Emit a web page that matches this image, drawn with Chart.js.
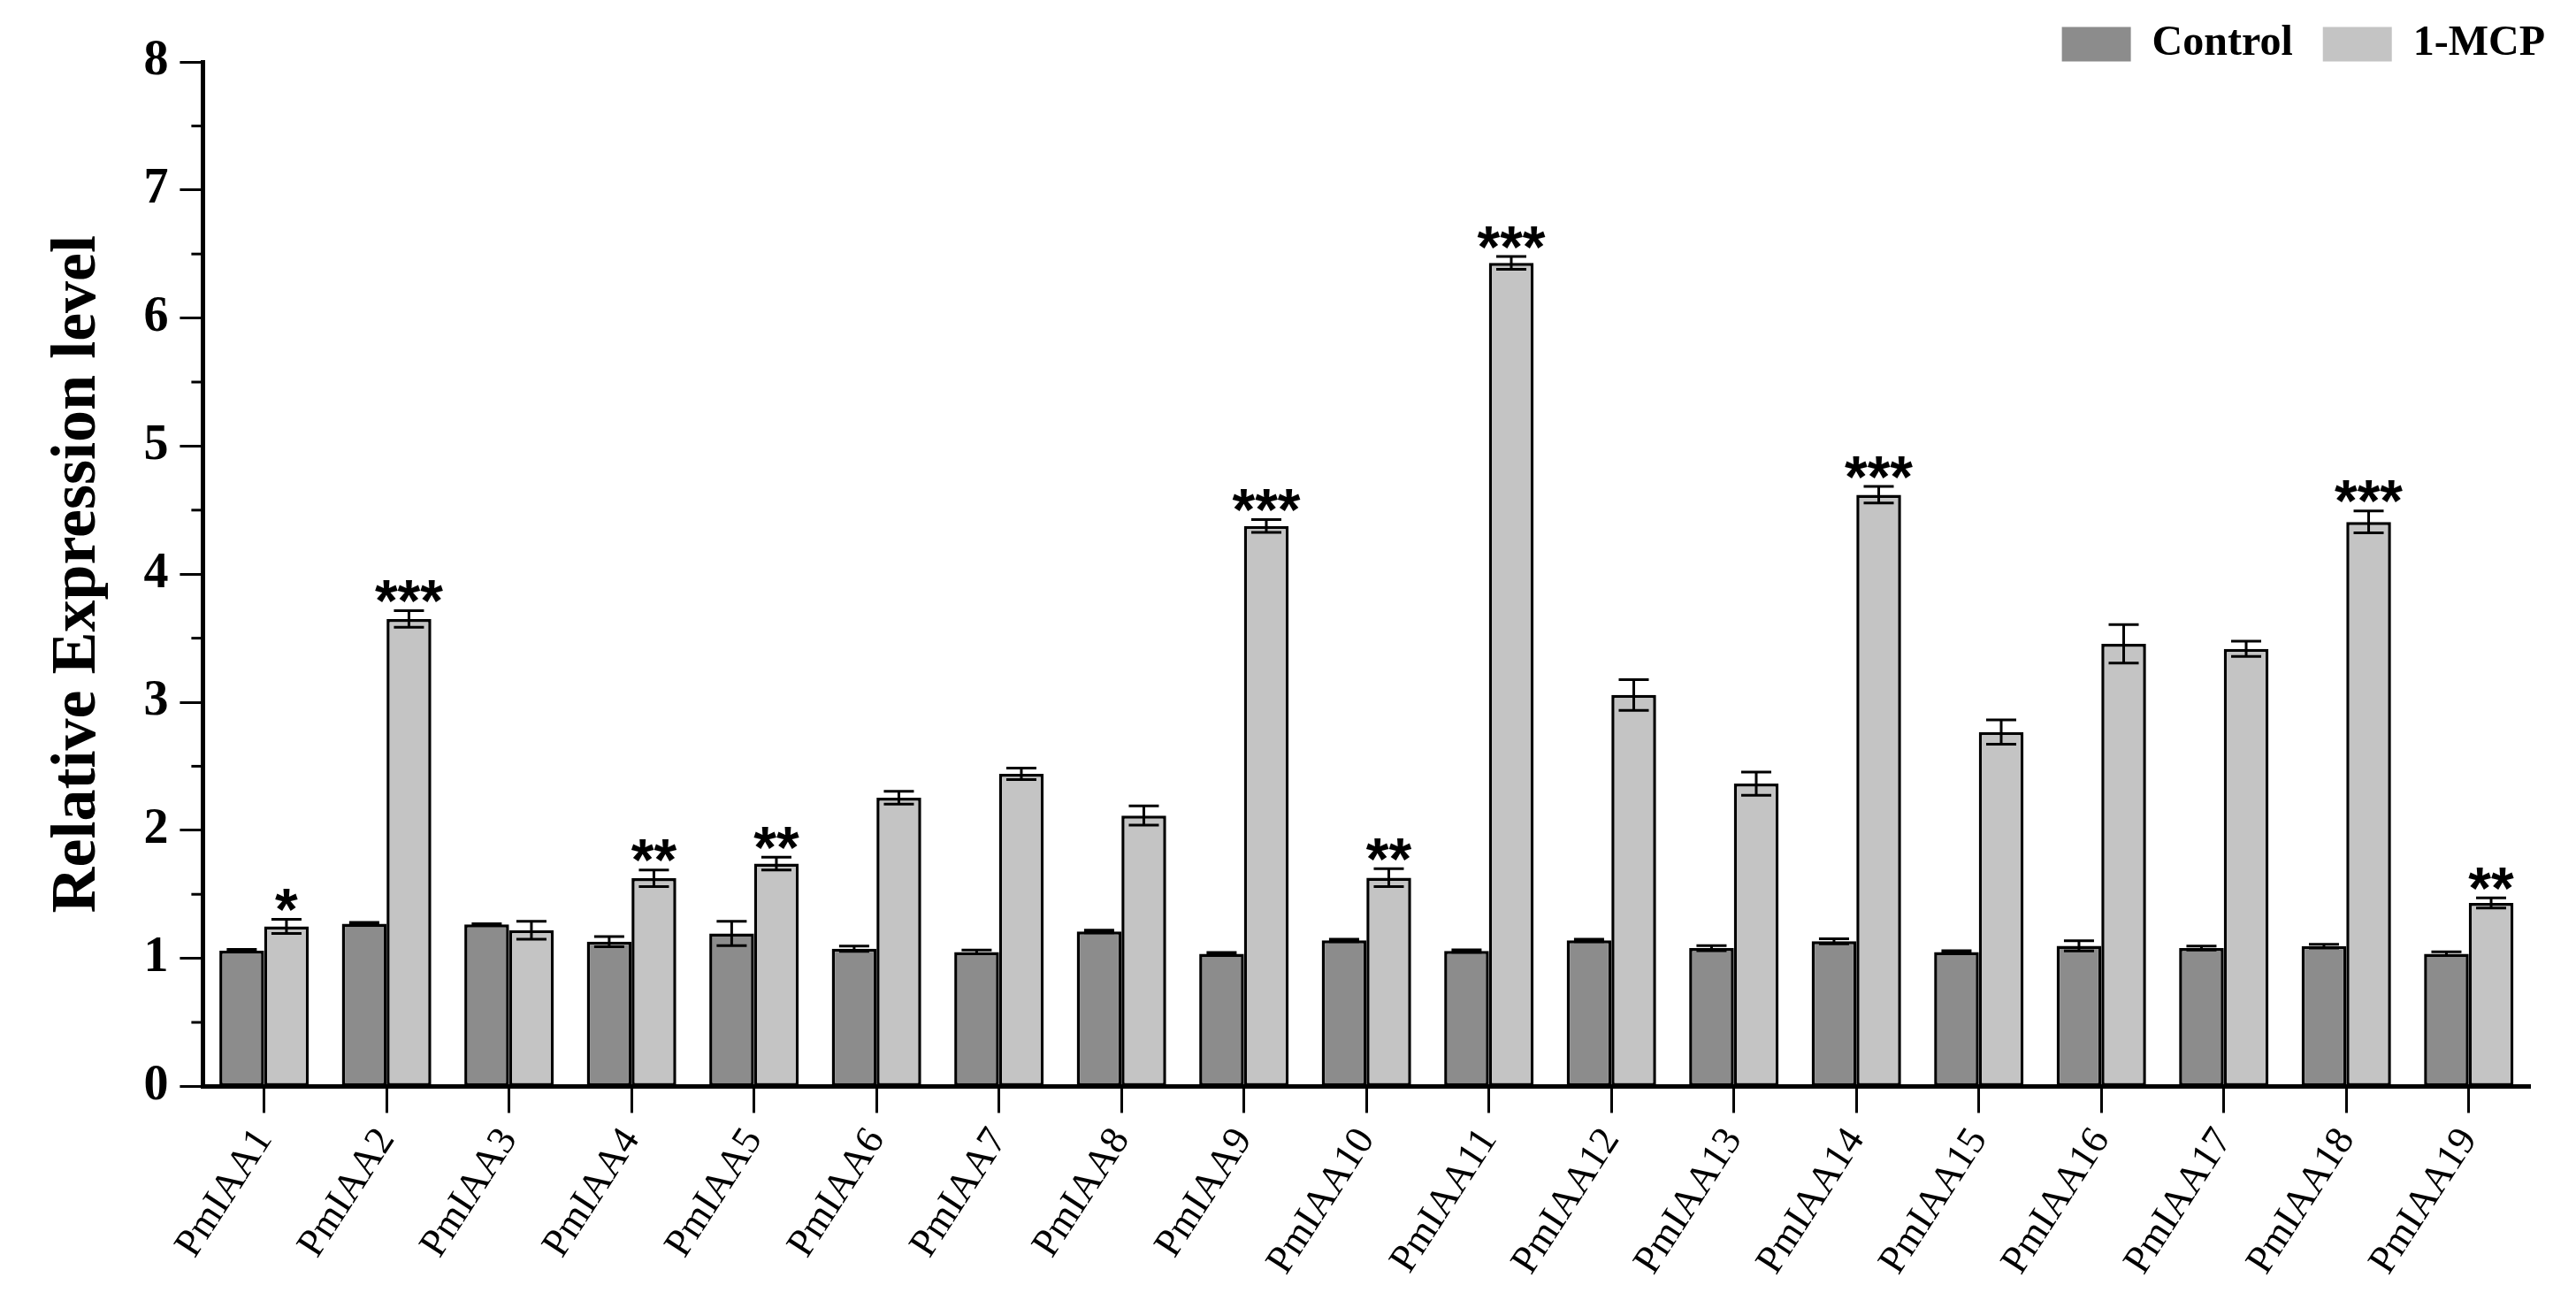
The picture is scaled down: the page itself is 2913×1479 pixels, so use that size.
<!DOCTYPE html>
<html>
<head>
<meta charset="utf-8">
<script src="https://cdn.jsdelivr.net/npm/chart.js@4/dist/chart.umd.min.js"></script>
<style>
  html, body { margin: 0; padding: 0; background: #fff; }
  #wrap { width: 2913px; height: 1479px; }
</style>
</head>
<body>
<div id="wrap"><canvas id="c" width="2913" height="1479"></canvas></div>
<script>
const categories = ['PmIAA1','PmIAA2','PmIAA3','PmIAA4','PmIAA5','PmIAA6','PmIAA7','PmIAA8','PmIAA9','PmIAA10','PmIAA11','PmIAA12','PmIAA13','PmIAA14','PmIAA15','PmIAA16','PmIAA17','PmIAA18','PmIAA19'];
const controlValues = [1.06, 1.27, 1.265, 1.13, 1.195, 1.075, 1.05, 1.21, 1.035, 1.14, 1.057, 1.14, 1.08, 1.133, 1.05, 1.098, 1.08, 1.095, 1.036];
const controlErrors = [0.01, 0.01, 0.005, 0.04, 0.095, 0.02, 0.015, 0.01, 0.01, 0.01, 0.01, 0.01, 0.02, 0.02, 0.01, 0.04, 0.015, 0.015, 0.015];
const mcpValues = [1.25, 3.65, 1.22, 1.625, 1.74, 2.255, 2.44, 2.115, 4.376, 1.63, 6.43, 3.057, 2.364, 4.62, 2.767, 3.456, 3.417, 4.408, 1.433];
const mcpErrors = [0.055, 0.065, 0.07, 0.065, 0.05, 0.05, 0.045, 0.075, 0.05, 0.07, 0.05, 0.12, 0.09, 0.065, 0.095, 0.15, 0.06, 0.085, 0.04];
const significance = ['*','***','','**','**','','','','***','**','***','','','***','','','','***','**'];
const seriesNames = ['Control', '1-MCP'];
const yTickValues = [0, 1, 2, 3, 4, 5, 6, 7, 8];
const yMinorTickValues = [0.5, 1.5, 2.5, 3.5, 4.5, 5.5, 6.5, 7.5];

const errorsBySeries = [controlErrors, mcpErrors];

const errorBarPlugin = {
  id: 'errorBars',
  afterDatasetsDraw(chart) {
    const ctx = chart.ctx;
    const y = chart.scales.y;
    ctx.save();
    ctx.strokeStyle = '#000';
    ctx.lineWidth = 3;
    chart.data.datasets.forEach((ds, di) => {
      const meta = chart.getDatasetMeta(di);
      meta.data.forEach((bar, i) => {
        const v = ds.data[i];
        const e = errorsBySeries[di][i];
        const yTop = y.getPixelForValue(v + e);
        const yBot = y.getPixelForValue(v - e);
        const x = bar.x;
        const cap = 17;
        ctx.beginPath();
        ctx.moveTo(x, yTop); ctx.lineTo(x, yBot);
        ctx.moveTo(x - cap, yTop); ctx.lineTo(x + cap, yTop);
        ctx.moveTo(x - cap, yBot); ctx.lineTo(x + cap, yBot);
        ctx.stroke();
      });
    });
    // significance marks above the 1-MCP bars
    const meta = chart.getDatasetMeta(1);
    ctx.fillStyle = '#000';
    ctx.font = 'bold 66px "Liberation Sans", Arial, sans-serif';
    ctx.textAlign = 'center';
    ctx.textBaseline = 'alphabetic';
    meta.data.forEach((bar, i) => {
      const s = significance[i];
      if (!s) return;
      const yTop = y.getPixelForValue(mcpValues[i] + mcpErrors[i]);
      const center = yTop - 26;
      ctx.fillText(s, bar.x, center + 0.57 * 66);
    });
    ctx.restore();
  }
};

const minorTickPlugin = {
  id: 'minorTicks',
  afterDraw(chart) {
    const ctx = chart.ctx;
    const y = chart.scales.y;
    const x0 = chart.chartArea.left;
    ctx.save();
    ctx.strokeStyle = '#000';
    ctx.lineWidth = 3;
    yMinorTickValues.forEach(v => {
      const py = y.getPixelForValue(v);
      ctx.beginPath();
      ctx.moveTo(x0 - 13, py);
      ctx.lineTo(x0, py);
      ctx.stroke();
    });
    ctx.restore();
  }
};

const legendShiftPlugin = {
  id: 'legendShift',
  afterLayout(chart) {
    const lg = chart.legend;
    if (!lg) return;
    lg.top += 14; lg.bottom += 14;
    lg.left += 27; lg.right += 27;
  }
};

new Chart(document.getElementById('c'), {
  type: 'bar',
  data: {
    labels: categories,
    datasets: [
      {
        label: seriesNames[0],
        data: controlValues,
        backgroundColor: '#8c8c8c',
        borderColor: '#000',
        borderWidth: 3.5,
        borderSkipped: false,
        categoryPercentage: 0.73,
        barPercentage: 1.0
      },
      {
        label: seriesNames[1],
        data: mcpValues,
        backgroundColor: '#c4c4c4',
        borderColor: '#000',
        borderWidth: 3.5,
        borderSkipped: false,
        categoryPercentage: 0.73,
        barPercentage: 1.0
      }
    ]
  },
  options: {
    responsive: false,
    animation: false,
    devicePixelRatio: 1,
    layout: { padding: { left: 41, right: 52, top: 2, bottom: 20 } },
    plugins: {
      tooltip: { enabled: false },
      legend: {
        position: 'top',
        align: 'end',
        labels: {
          boxWidth: 78,
          boxHeight: 39,
          padding: 10,
          color: '#000',
          font: { family: '"Liberation Serif", "Times New Roman", serif', size: 48, weight: 'bold' },
          generateLabels(chart) {
            return chart.data.datasets.map((ds, i) => ({
              text: i === 0 ? ds.label + '\u00a0\u00a0' : ds.label,
              fillStyle: ds.backgroundColor,
              strokeStyle: ds.backgroundColor,
              lineWidth: 0,
              fontColor: '#000',
              datasetIndex: i
            }));
          }
        }
      }
    },
    scales: {
      x: {
        grid: { drawOnChartArea: false, offset: false, tickLength: 30, tickWidth: 3, tickColor: '#000' },
        border: { display: true, color: '#000', width: 5 },
        ticks: {
          color: '#000',
          minRotation: 57,
          maxRotation: 57,
          padding: 8,
          font: { family: '"Liberation Serif", "Times New Roman", serif', size: 45 }
        }
      },
      y: {
        min: 0,
        max: 8,
        afterBuildTicks(scale) { scale.ticks = yTickValues.map(v => ({ value: v })); },
        grid: { drawOnChartArea: false, tickLength: 26, tickWidth: 3, tickColor: '#000' },
        border: { display: true, color: '#000', width: 5 },
        ticks: {
          color: '#000',
          padding: 13,
          font: { family: '"Liberation Serif", "Times New Roman", serif', size: 56, weight: 'bold' }
        },
        title: {
          display: true,
          text: 'Relative Expression level',
          color: '#000',
          padding: { top: 4, bottom: 18 },
          font: { family: '"Liberation Serif", "Times New Roman", serif', size: 72, weight: 'bold' }
        }
      }
    }
  },
  plugins: [errorBarPlugin, minorTickPlugin, legendShiftPlugin]
});
</script>
</body>
</html>
